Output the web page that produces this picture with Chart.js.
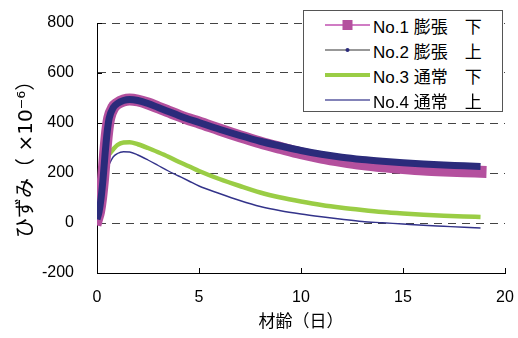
<!DOCTYPE html>
<html>
<head>
<meta charset="utf-8">
<script src="https://cdn.jsdelivr.net/npm/chart.js@4/dist/chart.umd.min.js"></script>
<style>
  html, body { margin: 0; padding: 0; background: #fff; }
  #wrap { position: relative; width: 518px; height: 338px; }
  #legend {
    position: absolute; left: 303px; top: 10px; width: 200px; height: 102px;
    box-sizing: border-box; border: 1px solid #555; background: #fff;
    font: 17px "Liberation Sans", "Noto Sans CJK JP", sans-serif; color: #000;
  }
  #legend .row { position: absolute; left: 21px; height: 24px; display: flex; align-items: center; white-space: pre; }
  #legend svg { margin-right: 3px; }
</style>
</head>
<body>
<div id="wrap">
  <canvas id="strainChart" width="518" height="338"></canvas>
  <div id="legend"></div>
</div>
<script>
// Data (days vs strain x10^-6)
const days = [0, 0.1, 0.2, 0.3, 0.4, 0.5, 0.6, 0.8, 1.0, 1.3, 1.6, 2.0, 2.5, 3.0, 3.5, 4.0, 4.5, 5.0,
  6.0, 7.0, 8.0, 9.0, 10.0, 11.0, 12.0, 13.0, 14.0, 15.0, 16.0, 17.0, 18.0, 18.8];
const no1Strain = [15, 45, 100, 180, 280, 365, 420, 462, 478, 490, 494, 490, 478, 462, 446, 430, 415, 402,
  374, 347, 322, 300, 279, 262, 248, 236, 227, 220, 214, 210, 207, 205];
const no2Strain = [15, 45, 100, 180, 280, 365, 420, 462, 478, 490, 494, 490, 478, 462, 446, 430, 415, 402,
  375, 350, 327, 308, 290, 275, 263, 254, 247, 241, 236, 232, 229, 226];
const no3Strain = [10, 40, 100, 170, 230, 262, 275, 295, 312, 322, 323, 315, 300, 283, 265, 245, 227, 208,
  176, 148, 122, 102, 86, 72, 61, 52, 44, 38, 33, 29, 26, 24];
const no4Strain = [10, 40, 100, 160, 200, 215, 235, 265, 278, 285, 284, 272, 252, 230, 208, 188, 168, 148,
  118, 90, 66, 49, 36, 25, 15, 6, 1, -4, -9, -13, -17, -20];

const seriesLabels = ["No.1 膨張　下", "No.2 膨張　上", "No.3 通常　下", "No.4 通常　上"];
const yTicks = [-200, 0, 200, 400, 600, 800];
const xTicks = [0, 5, 10, 15, 20];

const toPoints = (vals) => vals.map((v, i) => ({ x: days[i], y: v }));

Chart.defaults.font.family = '"Liberation Sans", "Noto Sans CJK JP", sans-serif';
Chart.defaults.font.size = 16;
Chart.defaults.color = "#000";

// small inward tick marks on both axes
const innerTicks = {
  id: "innerTicks",
  beforeDatasetsDraw(chart) {
    const { ctx, chartArea, scales } = chart;
    ctx.save();
    ctx.strokeStyle = "#000";
    ctx.lineWidth = 1;
    ctx.beginPath();
    yTicks.forEach((t) => {
      const y = Math.round(scales.y.getPixelForValue(t)) + 0.5;
      ctx.moveTo(chartArea.left, y);
      ctx.lineTo(chartArea.left + 5, y);
    });
    xTicks.forEach((t) => {
      const x = Math.round(scales.x.getPixelForValue(t)) + 0.5;
      ctx.moveTo(x, chartArea.bottom);
      ctx.lineTo(x, chartArea.bottom - 5);
    });
    ctx.stroke();
    ctx.restore();
  },
};

const legendIcons = [
  '<svg width="45" height="14"><line x1="0" y1="7" x2="45" y2="7" stroke="#c050b0" stroke-width="1.5"/><rect x="17.5" y="2" width="10" height="10" fill="#b4509e"/></svg>',
  '<svg width="45" height="14"><line x1="0" y1="7" x2="45" y2="7" stroke="#333" stroke-width="1.2"/><circle cx="22.5" cy="7" r="2" fill="#2b2b7b"/></svg>',
  '<svg width="45" height="14"><line x1="0" y1="7" x2="45" y2="7" stroke="#9acd45" stroke-width="4"/></svg>',
  '<svg width="45" height="14"><line x1="0" y1="7" x2="45" y2="7" stroke="#5a5aa0" stroke-width="1.5"/></svg>',
];

const htmlLegend = {
  id: "htmlLegend",
  afterUpdate(chart) {
    const box = document.getElementById("legend");
    box.innerHTML = "";
    chart.data.datasets.forEach((ds, i) => {
      const row = document.createElement("div");
      row.className = "row";
      row.style.top = (2 + i * 25) + "px";
      row.innerHTML = legendIcons[i] + "<span>" + ds.label + "</span>";
      box.appendChild(row);
    });
  },
};

new Chart(document.getElementById("strainChart").getContext("2d"), {
  type: "line",
  data: {
    datasets: [
      {
        label: seriesLabels[0],
        data: toPoints(no1Strain),
        borderColor: "#b4509e",
        borderWidth: 12,
        borderCapStyle: "square",
        order: 2,
      },
      {
        label: seriesLabels[1],
        data: toPoints(no2Strain),
        borderColor: "#2b2b7b",
        borderWidth: 7,
        order: 1,
      },
      {
        label: seriesLabels[2],
        data: toPoints(no3Strain),
        borderColor: "#9acd45",
        borderWidth: 4.5,
        order: 3,
      },
      {
        label: seriesLabels[3],
        data: toPoints(no4Strain),
        borderColor: "#33338a",
        borderWidth: 1.4,
        order: 4,
      },
    ],
  },
  options: {
    responsive: false,
    animation: false,
    layout: { padding: { top: 23, right: 13, left: 0, bottom: 0 } },
    elements: {
      point: { radius: 0 },
      line: { cubicInterpolationMode: "monotone", borderJoinStyle: "round" },
    },
    plugins: {
      legend: { display: false },
      tooltip: { enabled: false },
    },
    scales: {
      x: {
        type: "linear",
        min: 0,
        max: 20,
        afterFit: (scale) => {
          scale.height = 65;
          scale.paddingLeft = 0;
          scale.paddingRight = 0;
        },
        ticks: { stepSize: 5, padding: 15 },
        grid: { display: false, drawTicks: false },
        border: { display: true, color: "#000", width: 1 },
        title: { display: true, text: "材齢（日）", font: { size: 17 }, padding: { top: 0, bottom: 5 } },
      },
      y: {
        min: -200,
        max: 800,
        afterFit: (scale) => {
          scale.width = 97;
          scale.paddingTop = 0;
          scale.paddingBottom = 0;
        },
        ticks: { stepSize: 200, padding: 23 },
        grid: {
          drawTicks: false,
          color: (ctx) => (ctx.tick && ctx.tick.value === -200 ? "rgba(0,0,0,0)" : "#444"),
          lineWidth: 1,
        },
        border: { display: true, color: "#000", width: 1, dash: [8, 6] },
        title: {
          display: true,
          text: "ひずみ（ ×10⁻⁶）  ",
          font: { size: 20, family: '"DejaVu Sans", "Noto Sans CJK JP", sans-serif' },
          padding: { top: 15, bottom: 0 },
        },
      },
    },
  },
  plugins: [innerTicks, htmlLegend],
});
</script>
</body>
</html>
